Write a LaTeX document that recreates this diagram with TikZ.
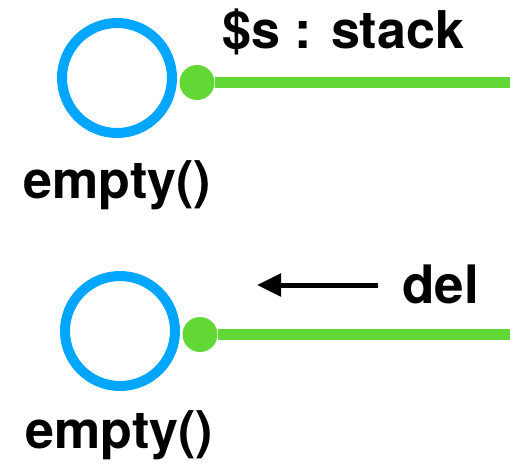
\documentclass[tikz,border=0pt]{standalone}
\usepackage{fontspec}
\setmainfont{TeX Gyre Heros}
\usetikzlibrary{arrows.meta}
\definecolor{ringblue}{RGB}{0,166,255}
\definecolor{wiregreen}{RGB}{97,216,54}
\tikzset{
  ring/.style={circle, draw=ringblue, line width=10pt, minimum size=110pt, inner sep=0pt},
  port/.style={circle, fill=wiregreen, minimum size=35pt, inner sep=0pt},
  wire/.style={draw=wiregreen, line width=11pt},
  lbl/.style={anchor=base west, inner sep=0pt, font=\bfseries\fontsize{52}{60}\selectfont},
  delarrow/.style={line width=5pt, -{Triangle[length=24pt, width=22pt]}}
}
\begin{document}
\begin{tikzpicture}[x=1pt, y=-1pt]
\useasboundingbox (0,0) rectangle (510,471);
% top part
\node[ring] (c1) at (117,78) {};
\node[port] (d1) at (197,82.5) {};
\coordinate (e1) at (515,82.5);
\draw[wire] (d1) -- (e1);
\node[lbl] (t1) at (222,48) {\$s : stack};
\node[lbl] (m1) at (23,198) {empty()};
% bottom part
\node[ring] (c2) at (120,331) {};
\node[port] (d2) at (200,334.5) {};
\coordinate (e2) at (515,334.5);
\draw[wire] (d2) -- (e2);
\node[lbl, font=\bfseries\fontsize{53}{60}\selectfont] (dl) at (402,303) {del};
\coordinate (a1) at (378,285);
\coordinate (a2) at (257,285);
\draw[delarrow] (a1) -- (a2);
\node[lbl] (m2) at (25,448) {empty()};
\end{tikzpicture}
\end{document}
